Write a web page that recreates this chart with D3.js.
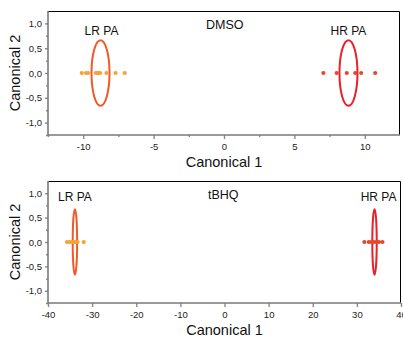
<!DOCTYPE html>
<html>
<head>
<meta charset="utf-8">
<script src="https://cdn.jsdelivr.net/npm/d3@7"></script>
<style>
  body { margin: 0; background: #fff; }
  svg { display: block; }
  .tick text { font-family: "Liberation Sans Narrow", "Liberation Sans", Arial, sans-serif; font-size: 9.5px; fill: #222; }
</style>
</head>
<body>
<div id="main"></div>
<script>
const ctx = {
    WIDTH: 403,
    HEIGHT: 338,
};

// Canonical 1 scores (canonical 2 is 0 for every point)
const dmsoLR = [-10.1, -9.8, -9.65, -9.1, -9.0, -8.9, -8.8, -8.35, -7.7, -7.05];
const dmsoHR = [7.06, 8.0, 8.72, 9.32, 9.74, 10.74];
const tbhqLR = [-35.7, -35.1, -34.5, -34.2, -33.8, -33.3, -31.9];
const tbhqHR = [31.7, 32.7, 33.3, 33.9, 34.5, 35.0, 35.8];

// group centroids and confidence radii (canonical units)
const dmsoCentres = [{ name: "LR PA", c1: -8.77, rx: 0.64, ry: 0.66 }, { name: "HR PA", c1: 8.84, rx: 0.64, ry: 0.66 }];
const tbhqCentres = [{ name: "LR PA", c1: -33.9, rx: 0.5, ry: 0.67 }, { name: "HR PA", c1: 34.0, rx: 0.5, ry: 0.67 }];

const yTicks = [-1, -0.5, 0, 0.5, 1];
const yMinor = [-1.25, -0.75, -0.25, 0.25, 0.75];
const dmsoXTicks = [-10, -5, 0, 5, 10];
const dmsoXMinor = [-12.5, -7.5, -2.5, 2.5, 7.5];
const tbhqXTicks = [-40, -30, -20, -10, 0, 10, 20, 30, 40];

const colours = {
    lrPoint: "#f7a234",
    lrRing: "#ee5a2a",
    hrPoint: "#e2492b",
    hrRing: "#e8212b",
};

function drawPanel(svg, opts) {
    const g = svg.append("g");
    const x = d3.scaleLinear().domain(opts.xDomain).range([opts.left, opts.right]);
    const y = d3.scaleLinear().domain([-1.25, 1.25]).range([opts.bottom, opts.top]);

    // top and right frame
    g.append("path")
        .attr("d", `M${opts.left},${opts.top + 0.5}H${opts.right - 0.5}V${opts.bottom}`)
        .attr("fill", "none")
        .attr("stroke", "#000")
        .attr("stroke-width", 1);

    // minor ticks
    const minorX = g.append("g").attr("transform", `translate(0,${opts.bottom})`)
        .call(d3.axisBottom(x).tickValues(opts.xMinor).tickSize(2).tickFormat(""));
    const minorY = g.append("g").attr("transform", `translate(${opts.left},0)`)
        .call(d3.axisLeft(y).tickValues(yMinor).tickSize(2).tickFormat(""));

    const xAxis = g.append("g").attr("transform", `translate(0,${opts.bottom})`)
        .call(d3.axisBottom(x).tickValues(opts.xTicks).tickSize(4).tickPadding(4).tickFormat(d3.format("d")));
    const yAxis = g.append("g").attr("transform", `translate(${opts.left},0)`)
        .call(d3.axisLeft(y).tickValues(yTicks).tickSize(3).tickPadding(3)
            .tickFormat(d => d3.format(".1f")(d).replace(".", ",").replace("−", "-")));
    xAxis.selectAll("text").text(d => String(d));

    [minorX, minorY, xAxis, yAxis].forEach(a => {
        a.select(".domain").remove();
        a.selectAll(".tick line").attr("stroke", "#8a8a8a").attr("stroke-width", 1.4);
    });

    // grey left and bottom axis lines
    g.append("path")
        .attr("d", `M${opts.left},${opts.top}V${opts.bottom}H${opts.right}`)
        .attr("fill", "none")
        .attr("stroke", "#7a7a7a")
        .attr("stroke-width", 1.6);

    // rings
    g.selectAll("ellipse")
        .data(opts.centres)
        .enter()
        .append("ellipse")
        .attr("cx", d => x(d.c1))
        .attr("cy", y(0))
        .attr("rx", d => Math.abs(x(d.rx) - x(0)))
        .attr("ry", d => Math.abs(y(d.ry) - y(0)))
        .attr("fill", "none")
        .attr("stroke", (d, i) => i === 0 ? colours.lrRing : colours.hrRing)
        .attr("stroke-width", 2);

    // points
    const pts = opts.lr.map(v => ({ v, grp: 0 })).concat(opts.hr.map(v => ({ v, grp: 1 })));
    g.selectAll("circle")
        .data(pts)
        .enter()
        .append("circle")
        .attr("cx", d => x(d.v))
        .attr("cy", y(0))
        .attr("r", 2.1)
        .attr("fill", d => d.grp === 0 ? colours.lrPoint : colours.hrPoint);

    // group names
    g.selectAll("text.grp")
        .data(opts.centres)
        .enter()
        .append("text")
        .attr("class", "grp")
        .attr("x", (d, i) => x(d.c1) + opts.labelShift[i])
        .attr("y", opts.top + opts.labelDy)
        .attr("text-anchor", "middle")
        .attr("font-family", "'Liberation Sans Narrow', 'Liberation Sans', Arial, sans-serif")
        .attr("font-size", 12)
        .attr("fill", "#111")
        .text(d => d.name);

    g.append("text")
        .attr("x", opts.titleX)
        .attr("y", opts.top + opts.titleDy)
        .attr("font-family", "'Liberation Sans', Arial, sans-serif")
        .attr("font-size", 12.5)
        .attr("fill", "#111")
        .text(opts.title);

    // axis titles
    g.append("text")
        .attr("x", x(0))
        .attr("y", opts.bottom + 32)
        .attr("text-anchor", "middle")
        .attr("font-family", "'Liberation Sans', Arial, sans-serif")
        .attr("font-size", 14.5)
        .attr("fill", "#111")
        .text("Canonical 1");
    g.append("text")
        .attr("transform", `translate(20,${y(0)}) rotate(-90)`)
        .attr("text-anchor", "middle")
        .attr("font-family", "'Liberation Sans', Arial, sans-serif")
        .attr("font-size", 14.5)
        .attr("fill", "#111")
        .text("Canonical 2");
}

function createViz() {
    const svg = d3.select("#main").append("svg")
        .attr("width", ctx.WIDTH)
        .attr("height", ctx.HEIGHT);

    drawPanel(svg, {
        left: 48, right: 400, top: 11, bottom: 135,
        xDomain: [-12.5, 12.5],
        xTicks: dmsoXTicks, xMinor: dmsoXMinor,
        lr: dmsoLR, hr: dmsoHR, centres: dmsoCentres,
        labelShift: [1, 0], labelDy: 24,
        title: "DMSO", titleX: 206, titleDy: 18,
    });
    drawPanel(svg, {
        left: 48, right: 401, top: 181, bottom: 303,
        xDomain: [-40, 40],
        xTicks: tbhqXTicks, xMinor: [],
        lr: tbhqLR, hr: tbhqHR, centres: tbhqCentres,
        labelShift: [0, 4], labelDy: 20,
        title: "tBHQ", titleX: 208, titleDy: 18,
    });
}

createViz();
</script>
</body>
</html>
